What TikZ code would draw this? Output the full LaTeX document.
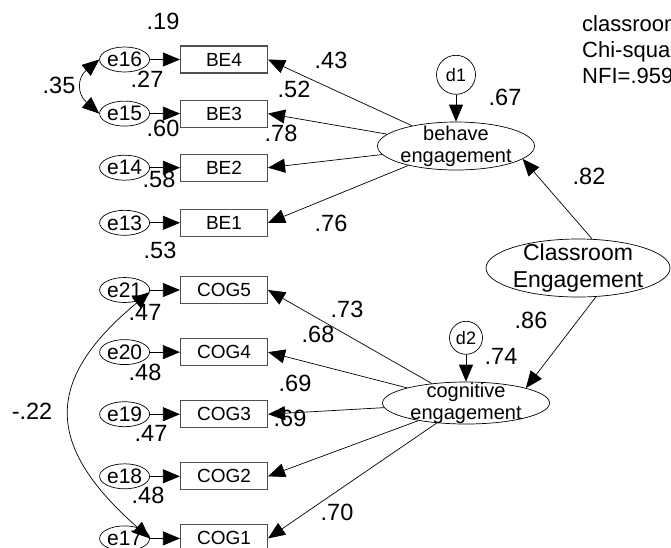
\documentclass[tikz,border=0pt]{standalone}
\usepackage{fontspec}
\setmainfont{Liberation Sans}
\usetikzlibrary{
  shapes.geometric,
  arrows.meta,
  positioning
}
\definecolor{framecolor}{RGB}{80,80,80}
\definecolor{linecolor}{RGB}{0,0,0}
\definecolor{textcolor}{RGB}{0,0,0}
\tikzset{
obsbox/.style={
  rectangle,
  draw=framecolor,
  line width=1.1pt,
  minimum width=87pt,
  minimum height=27pt,
  inner sep=0pt,
  font=\fontsize{19}{21}\selectfont,
  text=textcolor
},
errnode/.style={
  ellipse,
  draw=linecolor,
  line width=0.7pt,
  minimum width=50pt,
  minimum height=25pt,
  inner sep=0pt,
  font=\fontsize{21}{23}\selectfont
},
latentbox/.style={
  ellipse,
  draw=linecolor,
  line width=0.7pt,
  inner sep=0pt
},
lattext/.style={
  align=center,
  inner sep=0pt,
  font=\fontsize{20}{22}\selectfont
},
distbox/.style={
  circle,
  draw=linecolor,
  line width=0.7pt,
  inner sep=0pt,
  font=\fontsize{18}{20}\selectfont
},
coefnum/.style={
  inner sep=0pt,
  font=\fontsize{23.5}{25}\selectfont
},
notetext/.style={
  inner sep=0pt,
  align=left,
  font=\fontsize{22}{26}\selectfont
},
myarrow/.style={
  -{Triangle[length=17pt,width=14pt]},
  line width=0.7pt,
  draw=linecolor
},
covarrow/.style={
  {Triangle[length=17pt,width=14pt]}-{Triangle[length=17pt,width=14pt]},
  line width=0.7pt,
  draw=linecolor
}
}

\begin{document}
\begin{tikzpicture}[x=1pt, y=-1pt]
    \clip (0,0) rectangle (671,547);

    % Behave indicators
    \node[obsbox] (be4) at (224,59.5) {BE4};
    \node[obsbox, below=26pt of be4] (be3) {BE3};
    \node[obsbox, below=26pt of be3] (be2) {BE2};
    \node[obsbox, below=27pt of be2] (be1) {BE1};

    % Cognitive indicators
    \node[obsbox] (cog5) at (224,290) {COG5};
    \node[obsbox, below=34pt of cog5] (cog4) {COG4};
    \node[obsbox, below=34pt of cog4] (cog3) {COG3};
    \node[obsbox, below=34pt of cog3] (cog2) {COG2};
    \node[obsbox, below=34pt of cog2] (cog1) {COG1};

    % Error terms
    \node[errnode, left=30pt of be4] (e16) {e16};
    \node[errnode, left=30pt of be3] (e15) {e15};
    \node[errnode, left=30pt of be2] (e14) {e14};
    \node[errnode, left=30pt of be1] (e13) {e13};
    \node[errnode, left=30pt of cog5] (e21) {e21};
    \node[errnode, left=30pt of cog4] (e20) {e20};
    \node[errnode, left=30pt of cog3] (e19) {e19};
    \node[errnode, left=30pt of cog2] (e18) {e18};
    \node[errnode, left=30pt of cog1] (e17) {e17};

    % Latent factors
    \node[latentbox, minimum width=157pt, minimum height=48pt,
      label={[lattext]center:behave\\engagement}] (beh) at (456,146) {};
    \node[latentbox, minimum width=167pt, minimum height=42pt,
      label={[lattext]center:cognitive\\engagement}] (cog) at (466,403) {};
    \node[latentbox, minimum width=184pt, minimum height=58pt,
      label={[lattext, font=\fontsize{23}{27}\selectfont]center:Classroom\\Engagement}] (cls) at (578,268) {};

    % Disturbances
    \node[distbox, minimum size=39pt, above=27pt of beh] (d1) {d1};
    \node[distbox, minimum size=33pt, above=27pt of cog] (d2) {d2};

    % Fit note
    \node[notetext, anchor=north west] (fitnote) at (582,15) {classroom\\Chi-square\\NFI=.959};

    % Arrows errors -> indicators
    \draw[myarrow] (e16) -- (be4);
    \draw[myarrow] (e15) -- (be3);
    \draw[myarrow] (e14) -- (be2);
    \draw[myarrow] (e13) -- (be1);
    \draw[myarrow] (e21) -- (cog5);
    \draw[myarrow] (e20) -- (cog4);
    \draw[myarrow] (e19) -- (cog3);
    \draw[myarrow] (e18) -- (cog2);
    \draw[myarrow] (e17) -- (cog1);

    % Correlated errors
    \draw[covarrow] (e16.180) .. controls (77,78) and (77,94) .. (e15.180);
    \draw[covarrow] (e21.-5) .. controls (44,380) and (44,445) .. (e17.0);

    % Loadings
    \draw[myarrow] (beh) -- (be4.east);
    \draw[myarrow] (beh) -- (be3.east);
    \draw[myarrow] (beh) -- (be2.east);
    \draw[myarrow] (beh) -- (be1.east);
    \draw[myarrow] (cog) -- (cog5.east);
    \draw[myarrow] (cog) -- (cog4.east);
    \draw[myarrow] (cog) -- (cog3.east);
    \draw[myarrow] (cog) -- (cog2.east);
    \draw[myarrow] (cog) -- (cog1.east);

    % Structural paths
    \draw[myarrow] (cls.64) -- (beh.-11);
    \draw[myarrow] (cls.-58) -- (cog.14);
    \draw[myarrow] (d1) -- (beh);
    \draw[myarrow] (d2) -- (cog);

    % Squared multiple correlations
    \node[coefnum] (r16) at (163,21) {.19};
    \node[coefnum] (r15) at (147,79) {.27};
    \node[coefnum] (r14) at (163,128) {.60};
    \node[coefnum] (r13) at (159,179) {.58};
    \node[coefnum] (r12) at (160,250) {.53};
    \node[coefnum] (r21) at (145,312) {.47};
    \node[coefnum] (r20) at (145,372) {.48};
    \node[coefnum] (r19) at (151,433) {.47};
    \node[coefnum] (r18) at (148,495) {.48};
    \node[coefnum] (rbeh) at (505,97) {.67};
    \node[coefnum] (rcog) at (501,356) {.74};

    % Covariances
    \node[coefnum] (c1) at (59,85) {.35};
    \node[coefnum] (c2) at (32,411) {-.22};

    % Loading values
    \node[coefnum] (l4) at (331,60) {.43};
    \node[coefnum] (l3) at (294,89) {.52};
    \node[coefnum] (l2) at (281,133) {.78};
    \node[coefnum] (l1) at (331,223) {.76};
    \node[coefnum] (k5) at (347,309) {.73};
    \node[coefnum] (k4) at (318,334) {.68};
    \node[coefnum] (k3) at (295,383) {.69};
    \node[coefnum] (k2) at (290,418) {.69};
    \node[coefnum] (k1) at (337,512) {.70};
    \node[coefnum] (s1) at (589,176) {.82};
    \node[coefnum] (s2) at (531,320) {.86};

  \end{tikzpicture}
\end{document}
